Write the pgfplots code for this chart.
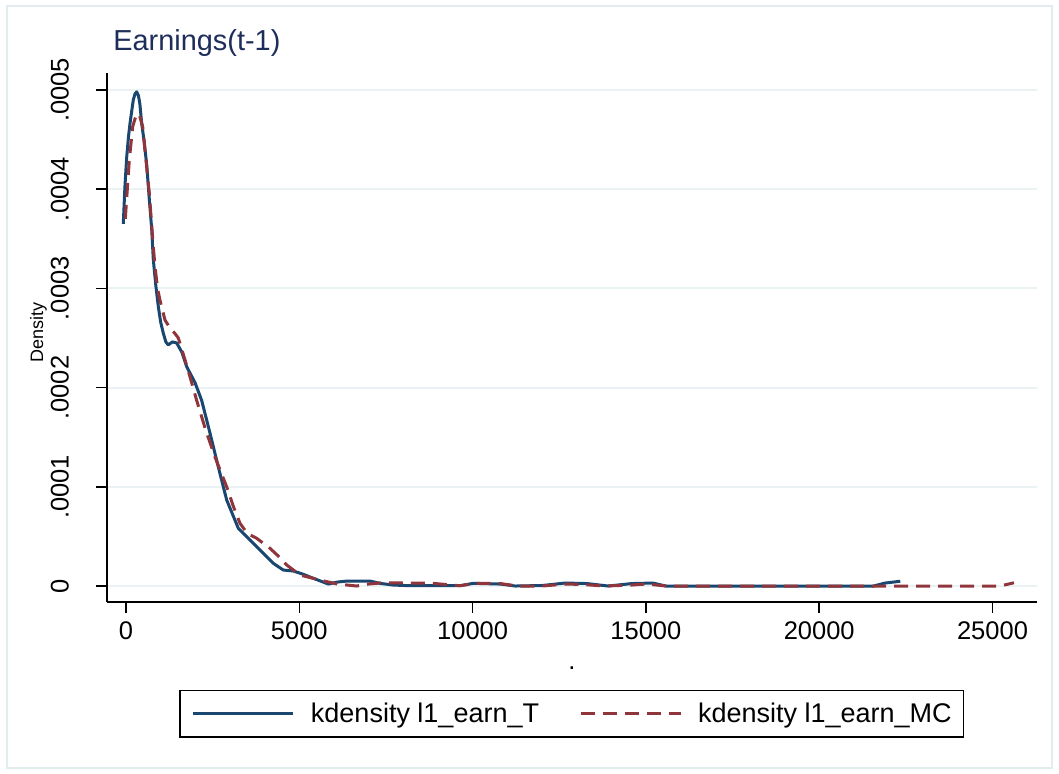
\documentclass[border=0pt]{standalone}
\usepackage{fontspec}
\setmainfont{Liberation Sans}
\usepackage{pgfplots}
\pgfplotsset{compat=1.18}
\definecolor{stnavy}{RGB}{26,71,111}
\definecolor{stmaroon}{RGB}{144,53,59}
\definecolor{stgrid}{RGB}{234,242,243}
\definecolor{sttitle}{RGB}{30,45,90}
\definecolor{stborder}{RGB}{228,235,238}
\begin{document}
\begin{tikzpicture}
\path[use as bounding box] (0,0) rectangle (529.5bp,387bp);
\draw[stborder, line width=0.6bp] (3.5bp,3bp) rectangle (526bp,384bp);
\begin{axis}[
  at={(53.5bp,86bp)}, anchor=south west,
  scale only axis, width=464.85bp, height=264.5bp,
  xmin=-548, xmax=26275, ymin=-0.0000161, ymax=0.000517,
  axis x line*=bottom, axis y line*=left,
  axis line style={black, line width=0.75bp, -},
  tick align=outside, major tick length=5.5bp,
  tick style={black, line width=0.75bp},
  xtick={0,5000,10000,15000,20000,25000},
  xticklabels={0,5000,10000,15000,20000,25000},
  ytick={0,0.0001,0.0002,0.0003,0.0004,0.0005},
  yticklabels={0,.0001,.0002,.0003,.0004,.0005},
  scaled x ticks=false, scaled y ticks=false,
  ymajorgrids, major grid style={stgrid, line width=1bp},
  tick label style={font=\fontsize{12.75bp}{15bp}\selectfont},
  xticklabel style={anchor=north},
  xticklabel shift=1bp,
  yticklabel style={rotate=90, anchor=south},
  yticklabel shift=10bp,
  title={Earnings(t-1)},
  title style={at={(axis description cs:0,1)}, anchor=base west, inner sep=0pt,
    xshift=3bp, yshift=5.5bp, font=\fontsize{14.45bp}{17bp}\selectfont, text=sttitle},
  xlabel={.},
  xlabel style={at={(axis description cs:0.5,-0.1285)}, anchor=base, inner sep=0pt,
    font=\fontsize{12.75bp}{15bp}\selectfont},
  ylabel={Density},
  ylabel style={at={(axis description cs:-0.0688,0.51)}, anchor=base, inner sep=0pt,
    font=\fontsize{9bp}{11bp}\selectfont},
  legend columns=2,
  legend style={at={(axis description cs:0.5,-0.2112)}, anchor=center,
    draw=black, line width=0.75bp, fill=white,
    font=\fontsize{13.5bp}{16bp}\selectfont,
    inner xsep=6bp, inner ysep=6bp,
    nodes={inner sep=0pt},
    column sep=8bp,
    /tikz/every even column/.append style={column sep=20bp}},
  legend cell align=left,
  legend image code/.code={\draw[#1] (0bp,0bp) -- (50bp,0bp);},
]
\addplot[stnavy, line width=1.5bp, line join=round] coordinates {
(-78,0.000365) (-30,0.000403) (20,0.000432) (70,0.000452) (115,0.000466)
(211,0.000490) (260,0.000496) (309,0.000498) (360,0.000494) (400,0.000486)
(453,0.000466) (520,0.000449) (597,0.000425) (672,0.000390) (741,0.000360)
(788,0.000329) (860,0.000303) (931,0.000282) (1000,0.000266) (1075,0.000255)
(1150,0.000246) (1219,0.000243) (1340,0.000246) (1461,0.000245) (1607,0.000236)
(1751,0.000221) (1991,0.000205) (2184,0.000187) (2424,0.000154) (2663,0.000120)
(2905,0.0000867) (3240,0.0000582) (3578,0.0000464) (3961,0.000033) (4250,0.0000229)
(4538,0.0000161) (4827,0.0000151) (5100,0.000012) (5404,0.0000078) (5837,0.000002)
(6100,0.000004) (6367,0.000005) (7039,0.000005) (7328,0.0000027) (7700,0.000001)
(8193,0.0000003) (9636,0.0000003) (10020,0.0000027) (10790,0.000002) (11232,0)
(12000,0.0000005) (12673,0.000003) (13300,0.0000025) (13910,0) (14600,0.0000025)
(15200,0.000003) (15570,0) (21570,0) (21900,0.000003) (22340,0.0000048)
};
\addlegendentry{kdensity l1\_earn\_T}
\addplot[stmaroon, line width=1.5bp, dash pattern=on 7bp off 4bp, line join=round] coordinates {
(-20,0.000370) (95,0.000429) (193,0.000463) (280,0.000473) (375,0.000476)
(482,0.000463) (577,0.000429) (672,0.000396) (788,0.000342) (837,0.000322)
(910,0.000300) (981,0.000288) (1125,0.000268) (1269,0.000260) (1400,0.000255)
(1509,0.000250) (1702,0.000228) (1895,0.000205) (2040,0.000187) (2300,0.000157)
(2568,0.000130) (2905,0.000100) (3100,0.000080) (3289,0.0000632) (3500,0.000053)
(3771,0.0000481) (4154,0.000038) (4400,0.000030) (4636,0.0000212) (5020,0.0000111)
(5597,0.000006) (6100,0.000002) (6656,0) (7000,0.000002) (7414,0.0000033)
(8857,0.0000027) (9636,0.0000003) (10100,0.0000027) (10800,0.0000025) (11300,0)
(12000,0) (12700,0.000002) (13200,0.0000015) (13800,0) (14600,0.000001)
(15000,0.000002) (15600,0) (25220,0) (25620,0.0000033)
};
\addlegendentry{kdensity l1\_earn\_MC}
\end{axis}
\end{tikzpicture}
\end{document}
